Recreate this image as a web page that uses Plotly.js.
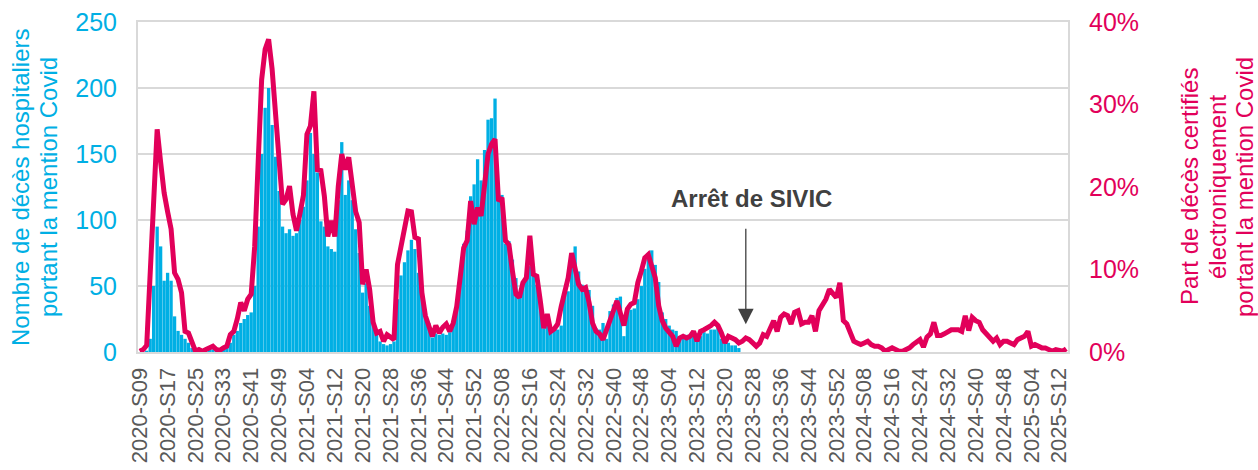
<!DOCTYPE html>
<html>
<head>
<meta charset="utf-8">
<script src="https://cdn.plot.ly/plotly-3.0.1.min.js"></script>
<style>html,body{margin:0;padding:0;background:#fff;}#chart{width:1258px;height:470px;}</style>
</head>
<body>
<div id="chart"></div>
<script>
// Week categories: 2020-S09 .. 2025-S14
const firstYear = 2020, firstWeek = 9, lastYear = 2025, lastWeek = 14;
const weeksInYear = {2020: 53, 2021: 52, 2022: 52, 2023: 52, 2024: 52, 2025: 52};
const categories = [];
for (let y = firstYear; y <= lastYear; y++) {
  const w0 = (y === firstYear) ? firstWeek : 1;
  const w1 = (y === lastYear) ? lastWeek : weeksInYear[y];
  for (let w = w0; w <= w1; w++) categories.push(y + '-S' + String(w).padStart(2, '0'));
}

const tickLabels = ['2020-S09','2020-S17','2020-S25','2020-S33','2020-S41','2020-S49',
  '2021-S04','2021-S12','2021-S20','2021-S28','2021-S36','2021-S44','2021-S52',
  '2022-S08','2022-S16','2022-S24','2022-S32','2022-S40','2022-S48',
  '2023-S04','2023-S12','2023-S20','2023-S28','2023-S36','2023-S44','2023-S52',
  '2024-S08','2024-S16','2024-S24','2024-S32','2024-S40','2024-S48',
  '2025-S04','2025-S12'];

// Hospital deaths with Covid mention (SIVIC), until 2023-S24
const hospitalDeaths = [
  0,0,1,10,50,95,80,54,60,54, 27,16,13,10,7,3,2,2,1,2,
  2,2,1,2,2,3,7,13,16,22, 25,28,30,50,95,150,185,200,172,148,
  122,95,90,93,88,90,100,110,130,166, 150,136,99,95,80,78,76,115,159,119,
  130,115,93,75,45,52,35,22,15,8, 6,5,6,8,40,58,68,77,85,78,
  60,42,30,22,11,14,13,14,13,15, 22,37,55,82,92,118,127,146,130,153,
  176,177,192,119,119,82,84,70,56,41, 51,59,65,65,51,39,18,26,15,17,
  17,20,44,46,66,80,61,51,50,47, 35,18,17,22,10,31,36,41,42,12,
  32,32,33,40,50,63,75,77,66,53, 30,25,20,17,16,12,12,13,11,12,
  14,12,15,14,17,17,21,10,8,7, 5,5,3
];

// Share (%) of electronically certified deaths with Covid mention
const certifiedShare = [
  0.1,0.3,0.8,9,17,27,23,19.3,17,14.9, 9.6,8.8,7.2,2.5,2.3,1.1,0.1,0.3,0.1,0.3,
  0.5,0.7,0.3,0.2,0.5,0.7,2.1,2.5,4,6, 5,6.4,7,12.8,23,33,36.7,37.9,34.3,29,
  23.4,17.9,18.5,20.1,16.7,14.7,16.8,19,26.4,27.4, 31.6,22.1,22,18.9,14,15.9,14,20.1,24,22.1,
  23.6,20.3,17,15.7,8.2,10,7.6,3.6,2.3,2.5, 1.3,2.1,1.7,1.5,10.6,12.8,15.3,17.1,17,13.9,
  13.7,7.2,4.4,2.9,1.9,3.2,2.3,3,3.4,2.5, 3.5,5.5,9.5,12.6,13.5,18.3,15.5,17.5,16.5,20,
  24,25.2,25.8,18.3,18.7,13.5,13,9.8,7,6.6, 8.4,9,14.1,9.4,9.2,6.2,2.9,4.6,2.5,2.8,
  3.4,5.5,7.2,9,12,10,8.2,7.6,7.8,6, 3.5,2.5,2.2,1.5,2.8,4,5,6.2,4.8,3.2,
  5.2,5.8,6,8.4,9.8,11.4,11.8,10.6,9,5.6, 3.8,2.9,2.5,1.9,0.7,1.7,1.9,1.7,1.9,2.5,
  1.3,2.5,2.7,2.9,3.2,3.6,3.2,2.3,1.1,1.9, 1.7,1.5,1.1,1.3,1.7,1.5,1.1,0.7,1.1,2.1,
  1.9,3,3.8,2.5,4.2,4.6,4.4,3.4,4.8,5, 3.4,3.6,3.6,4.4,2.5,5,5.6,6.4,7.6,7.2,
  6.6,8.4,3.8,3.4,2.3,1.3,1.1,0.9,1.1,1.3, 0.9,0.7,0.7,0.5,0.1,0.3,0.5,0.3,0.1,0.1,
  0.3,0.5,0.9,1.3,1.5,0.6,1.8,2.2,3.6,2.0, 2.0,2.2,2.5,2.7,2.7,2.7,2.5,4.4,2.6,4.2,
  3.8,3.6,2.7,2.3,1.7,1.3,1.7,0.9,1.3,1.3, 1.1,0.9,1.5,1.7,1.9,2.5,0.7,0.9,0.7,0.5,
  0.5,0.3,0.1,0.3,0.2,0.1,0.4
];

const leftTicks = [0, 50, 100, 150, 200, 250];
const rightTicks = [0, 10, 20, 30, 40];
const rightTickText = ['0%', '10%', '20%', '30%', '40%'];
const leftTitleLines = ['Nombre de décès hospitaliers', 'portant la mention Covid'];
const rightTitleLines = ['Part de décès certifiés', 'électroniquement', 'portant la mention Covid'];
const annotationWeek = '2023-S26';
const annotationText = 'Arrêt de SIVIC';

const BLUE = '#00AFE4';
const PINK = '#E2005A';
const FONT = 'Liberation Sans, Arial, sans-serif';

const traces = [
  {
    type: 'bar',
    x: categories.slice(0, hospitalDeaths.length),
    y: hospitalDeaths,
    marker: {color: BLUE, line: {width: 0}},
    yaxis: 'y',
    hoverinfo: 'x+y'
  },
  {
    type: 'scatter',
    mode: 'lines',
    x: categories,
    y: certifiedShare,
    yaxis: 'y2',
    line: {color: PINK, width: 5, shape: 'linear'},
    hoverinfo: 'x+y'
  }
];

const annotations = [
  {
    x: annotationWeek, y: 21, xref: 'x', yref: 'y',
    showarrow: true, arrowhead: 2, arrowsize: 2.4, arrowwidth: 1.3, arrowcolor: '#404040',
    ax: 0, ay: -97, text: ''
  },
  {
    x: annotationWeek, y: 116, xref: 'x', yref: 'y', xshift: 6,
    showarrow: false, text: '<b>' + annotationText + '</b>',
    font: {size: 24, color: '#404040', family: FONT}
  }
];
const leftShifts = [-118, -90];
leftTitleLines.forEach((t, k) => annotations.push({
  x: 0, y: 0.5, xref: 'paper', yref: 'paper', xshift: leftShifts[k],
  xanchor: 'center', yanchor: 'middle', textangle: -90, showarrow: false,
  text: t, font: {size: 24, color: BLUE, family: FONT}
}));
const rightShifts = [121, 149, 176];
rightTitleLines.forEach((t, k) => annotations.push({
  x: 1, y: 0.5, xref: 'paper', yref: 'paper', xshift: rightShifts[k],
  xanchor: 'center', yanchor: 'middle', textangle: -90, showarrow: false,
  text: t, font: {size: 24, color: PINK, family: FONT}
}));

const layout = {
  width: 1258, height: 470,
  margin: {l: 138, r: 190, t: 22, b: 118},
  paper_bgcolor: '#ffffff', plot_bgcolor: '#ffffff',
  showlegend: false,
  bargap: 0.05,
  font: {family: FONT},
  xaxis: {
    type: 'category',
    categoryorder: 'array',
    categoryarray: categories,
    range: [-0.5, categories.length - 0.5],
    tickmode: 'array',
    tickvals: tickLabels,
    ticktext: tickLabels,
    tickangle: -90,
    tickfont: {size: 22, color: '#595959', family: FONT},
    ticks: '',
    ticklabelstandoff: 5,
    showgrid: false,
    showline: true, linecolor: '#D9D9D9', linewidth: 2, mirror: true,
    zeroline: false
  },
  yaxis: {
    range: [0, 250],
    tickmode: 'array', tickvals: leftTicks,
    tickfont: {size: 25, color: BLUE, family: FONT},
    ticklabelstandoff: 14,
    showgrid: true, gridcolor: '#D9D9D9', gridwidth: 2,
    showline: true, linecolor: '#D9D9D9', linewidth: 2,
    zeroline: false
  },
  yaxis2: {
    overlaying: 'y', side: 'right',
    range: [0, 40],
    tickmode: 'array', tickvals: rightTicks, ticktext: rightTickText,
    tickfont: {size: 25, color: PINK, family: FONT},
    ticklabelstandoff: 14,
    showgrid: false, zeroline: false,
    showline: true, linecolor: '#D9D9D9', linewidth: 2
  },
  annotations: annotations
};

Plotly.newPlot('chart', traces, layout, {displayModeBar: false, staticPlot: true});
</script>
</body>
</html>
